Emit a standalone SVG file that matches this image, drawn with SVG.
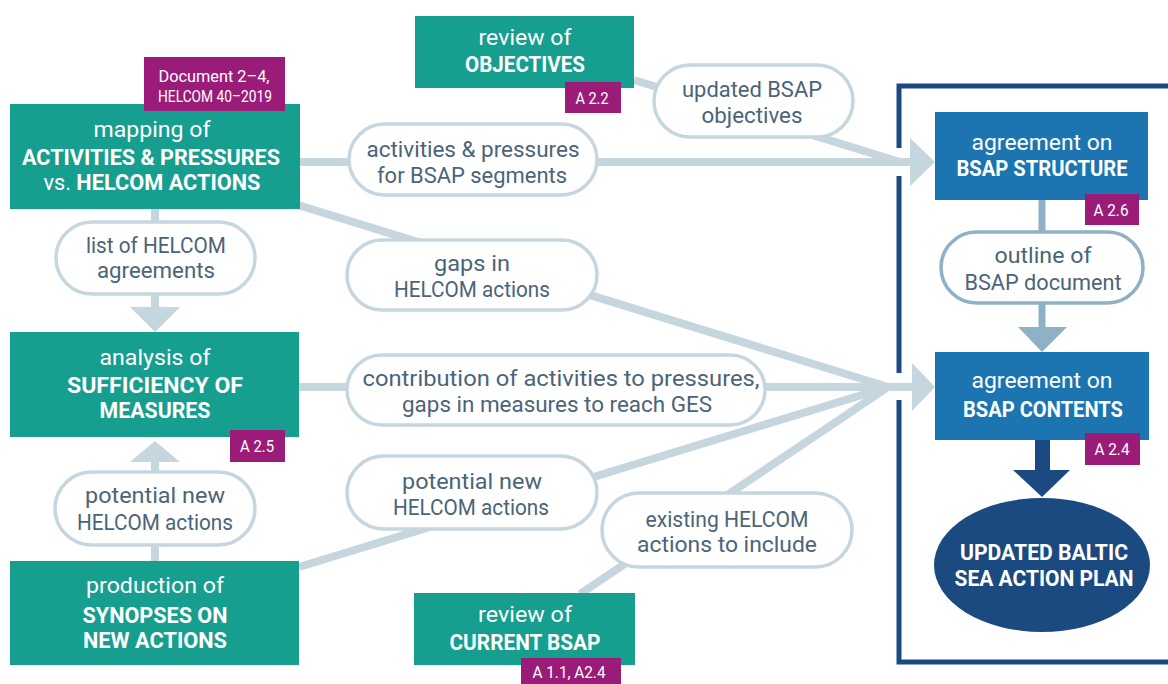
<svg xmlns="http://www.w3.org/2000/svg" width="1168" height="684" viewBox="0 0 1168 684">
<style>
text{font-family:Roboto,"Liberation Sans",sans-serif;text-anchor:middle}
.teal{fill:#169e8f}
.blue{fill:#1c75b0}
.navy{fill:#1b4a80}
.badge{fill:#9b1c78}
.bt{fill:#fff;font-size:16px}
.nr{fill:#fff;font-size:22px}
.nb{fill:#fff;font-size:22px;font-weight:bold}
.pill{fill:#fff;stroke:#c6d6df;stroke-width:3.5}
.pill2{fill:#fff;stroke:#8fb1c6;stroke-width:3.5}
.pt{fill:#4b6479;font-size:22px}
.con{stroke:#c6d6df;stroke-width:8;fill:none}
.conh{fill:#c6d6df}
</style>
<rect width="1168" height="684" fill="#fff"/>
<g id="frame">
<path d="M1168,86 H899 V148 M899,176 V373 M899,400 V662 H1168" fill="none" stroke="#1b4a80" stroke-width="5"/>
</g>
<g id="connectors">
<line class="con" x1="300" y1="162" x2="912" y2="162"/>
<line class="con" x1="634" y1="80" x2="900" y2="162"/>
<path class="conh" d="M910,138 L935,162 L910,186 Z"/>
<line class="con" x1="298" y1="205" x2="888" y2="387"/>
<line class="con" x1="299" y1="387" x2="912" y2="387"/>
<line class="con" x1="299" y1="567" x2="888" y2="387"/>
<line class="con" x1="580" y1="594" x2="888" y2="387"/>
<path class="conh" d="M912,363 L935,387 L912,411 Z"/>
<line class="con" x1="155" y1="209" x2="155" y2="308"/>
<path class="conh" d="M130,307 L180,307 L155,332 Z"/>
<line class="con" x1="155" y1="561" x2="155" y2="461"/>
<path class="conh" d="M130,462 L180,462 L155,441 Z"/>
<line x1="1042" y1="200" x2="1042" y2="328" stroke="#8fb1c6" stroke-width="7"/>
<path d="M1018,327 L1067,327 L1042,352 Z" fill="#8fb1c6"/>
<rect x="1035" y="440" width="15" height="31" class="navy"/>
<path class="navy" d="M1013,470 L1070,470 L1042,497 Z"/>
</g>
<g id="pill-activities">
<rect class="pill" x="349" y="124" width="248" height="71" rx="35.5"/>
<text class="pt" x="473" y="157" textLength="213" lengthAdjust="spacingAndGlyphs">activities &amp; pressures</text>
<text class="pt" x="472" y="183" textLength="190" lengthAdjust="spacingAndGlyphs">for BSAP segments</text>
</g>
<g id="pill-objectives">
<rect class="pill" x="654" y="65" width="199" height="72" rx="36"/>
<text class="pt" x="752" y="97" textLength="140" lengthAdjust="spacingAndGlyphs">updated BSAP</text>
<text class="pt" x="752" y="123" textLength="101" lengthAdjust="spacingAndGlyphs">objectives</text>
</g>
<g id="pill-list">
<rect class="pill" x="56" y="222" width="199" height="72" rx="36"/>
<text class="pt" x="156" y="253" textLength="140" lengthAdjust="spacingAndGlyphs">list of HELCOM</text>
<text class="pt" x="156" y="278" textLength="118" lengthAdjust="spacingAndGlyphs">agreements</text>
</g>
<g id="pill-gaps">
<rect class="pill" x="347" y="240" width="250" height="70" rx="35"/>
<text class="pt" x="472" y="271" textLength="76" lengthAdjust="spacingAndGlyphs">gaps in</text>
<text class="pt" x="472" y="297" textLength="156" lengthAdjust="spacingAndGlyphs">HELCOM actions</text>
</g>
<g id="pill-contribution">
<rect class="pill" x="347" y="355" width="418" height="70" rx="35"/>
<text class="pt" x="561" y="386" textLength="397" lengthAdjust="spacingAndGlyphs">contribution of activities to pressures,</text>
<text class="pt" x="557" y="412" textLength="310" lengthAdjust="spacingAndGlyphs">gaps in measures to reach GES</text>
</g>
<g id="pill-potential-mid">
<rect class="pill" x="347" y="456" width="250" height="73" rx="36.5"/>
<text class="pt" x="472" y="489" textLength="140" lengthAdjust="spacingAndGlyphs">potential new</text>
<text class="pt" x="471" y="515" textLength="156" lengthAdjust="spacingAndGlyphs">HELCOM actions</text>
</g>
<g id="pill-existing">
<rect class="pill" x="602" y="493" width="250" height="74" rx="37"/>
<text class="pt" x="727" y="527" textLength="163" lengthAdjust="spacingAndGlyphs">existing HELCOM</text>
<text class="pt" x="727" y="552" textLength="180" lengthAdjust="spacingAndGlyphs">actions to include</text>
</g>
<g id="pill-potential-left">
<rect class="pill" x="55" y="472" width="200" height="73" rx="36.5"/>
<text class="pt" x="155" y="503" textLength="140" lengthAdjust="spacingAndGlyphs">potential new</text>
<text class="pt" x="155" y="530" textLength="156" lengthAdjust="spacingAndGlyphs">HELCOM actions</text>
</g>
<g id="pill-outline">
<rect class="pill2" x="941" y="232" width="202" height="71" rx="35.5"/>
<text class="pt" x="1043" y="263" textLength="97" lengthAdjust="spacingAndGlyphs">outline of</text>
<text class="pt" x="1043" y="290" textLength="157" lengthAdjust="spacingAndGlyphs">BSAP document</text>
</g>
<g id="node-mapping">
<rect class="teal" x="10" y="104" width="290" height="105"/>
<text class="nr" x="152" y="137" textLength="117" lengthAdjust="spacingAndGlyphs">mapping of</text>
<text class="nb" x="151" y="165" textLength="258" lengthAdjust="spacingAndGlyphs">ACTIVITIES &amp; PRESSURES</text>
<text class="nb" x="152" y="190" textLength="217" lengthAdjust="spacingAndGlyphs"><tspan font-weight="normal">vs.</tspan> HELCOM ACTIONS</text>
<rect class="badge" x="144" y="57" width="141" height="54"/>
<text class="bt" x="214" y="82" font-size="17" textLength="111" lengthAdjust="spacingAndGlyphs">Document 2–4,</text>
<text class="bt" x="215" y="102" font-size="17" textLength="114" lengthAdjust="spacingAndGlyphs">HELCOM 40–2019</text>
</g>
<g id="node-objectives">
<rect class="teal" x="415" y="16" width="219" height="72"/>
<text class="nr" x="525" y="45" textLength="93" lengthAdjust="spacingAndGlyphs">review of</text>
<text class="nb" x="525" y="72" textLength="120" lengthAdjust="spacingAndGlyphs">OBJECTIVES</text>
<rect class="badge" x="565" y="82" width="56" height="31"/>
<text class="bt" x="592" y="104" textLength="33" lengthAdjust="spacingAndGlyphs">A 2.2</text>
</g>
<g id="node-analysis">
<rect class="teal" x="10" y="332" width="289" height="105"/>
<text class="nr" x="155" y="365" textLength="111" lengthAdjust="spacingAndGlyphs">analysis of</text>
<text class="nb" x="155" y="393" textLength="176" lengthAdjust="spacingAndGlyphs">SUFFICIENCY OF</text>
<text class="nb" x="155" y="418" textLength="111" lengthAdjust="spacingAndGlyphs">MEASURES</text>
<rect class="badge" x="230" y="430" width="55" height="32"/>
<text class="bt" x="257" y="452" textLength="34" lengthAdjust="spacingAndGlyphs">A 2.5</text>
</g>
<g id="node-synopses">
<rect class="teal" x="10" y="561" width="289" height="104"/>
<text class="nr" x="155" y="593" textLength="138" lengthAdjust="spacingAndGlyphs">production of</text>
<text class="nb" x="155" y="623" textLength="145" lengthAdjust="spacingAndGlyphs">SYNOPSES ON</text>
<text class="nb" x="155" y="648" textLength="144" lengthAdjust="spacingAndGlyphs">NEW ACTIONS</text>
</g>
<g id="node-current">
<rect class="teal" x="414" y="593" width="221" height="72"/>
<text class="nr" x="525" y="622" textLength="94" lengthAdjust="spacingAndGlyphs">review of</text>
<text class="nb" x="525" y="650" textLength="151" lengthAdjust="spacingAndGlyphs">CURRENT BSAP</text>
<rect class="badge" x="521" y="658" width="100" height="27"/>
<text class="bt" x="569" y="678" textLength="73" lengthAdjust="spacingAndGlyphs">A 1.1, A2.4</text>
</g>
<g id="node-structure">
<rect class="blue" x="935" y="112" width="213" height="88"/>
<text class="nr" x="1042" y="150" textLength="141" lengthAdjust="spacingAndGlyphs">agreement on</text>
<text class="nb" x="1042" y="176" textLength="171" lengthAdjust="spacingAndGlyphs">BSAP STRUCTURE</text>
<rect class="badge" x="1085" y="194" width="54" height="31"/>
<text class="bt" x="1111" y="216" textLength="35" lengthAdjust="spacingAndGlyphs">A 2.6</text>
</g>
<g id="node-contents">
<rect class="blue" x="935" y="352" width="214" height="88"/>
<text class="nr" x="1042" y="388" textLength="141" lengthAdjust="spacingAndGlyphs">agreement on</text>
<text class="nb" x="1043" y="417" textLength="160" lengthAdjust="spacingAndGlyphs">BSAP CONTENTS</text>
<rect class="badge" x="1085" y="433" width="55" height="32"/>
<text class="bt" x="1112" y="455" textLength="35" lengthAdjust="spacingAndGlyphs">A 2.4</text>
</g>
<g id="node-plan">
<ellipse class="navy" cx="1042" cy="565" rx="108" ry="67"/>
<text class="nb" x="1044" y="560" textLength="168" lengthAdjust="spacingAndGlyphs">UPDATED BALTIC</text>
<text class="nb" x="1044" y="586" textLength="179" lengthAdjust="spacingAndGlyphs">SEA ACTION PLAN</text>
</g>
</svg>
